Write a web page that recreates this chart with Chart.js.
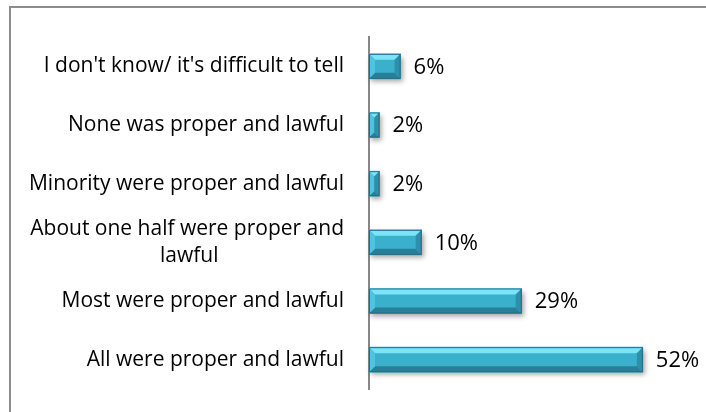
<!DOCTYPE html>
<html>
<head>
<meta charset="utf-8">
<script src="https://cdn.jsdelivr.net/npm/chart.js@4.4.0/dist/chart.umd.min.js"></script>
<style>
  html, body { margin: 0; padding: 0; background: #fff; }
  #wrap { width: 706px; height: 412px; position: relative; }
</style>
</head>
<body>
<div id="wrap"><canvas id="bar-chart" width="706" height="412"></canvas></div>
<script>
"use strict";

var categories = [
    "I don't know/ it's difficult to tell",
    "None was proper and lawful",
    "Minority were proper and lawful",
    ["About one half were proper and", "lawful"],
    "Most were proper and lawful",
    "All were proper and lawful"
];
var percents = [6, 2, 2, 10, 29, 52];
var valueLabels = ["6%", "2%", "2%", "10%", "29%", "52%"];

var labelFont = "'Open Sans', Lato, sans-serif";

// second line of a wrapped label sits centred under the first one
function centreSecondLine(lbl) {
    if (!Array.isArray(lbl)) return lbl;
    return [lbl[0], lbl[1] + new Array(24).join(' ')];
}

// frame round the chart, only top and left are inside the picture
var framePlugin = {
    id: 'frame',
    beforeDraw: function (chart) {
        var ctx = chart.ctx;
        ctx.save();
        ctx.strokeStyle = '#8c8c8c';
        ctx.lineWidth = 2;
        ctx.beginPath();
        ctx.moveTo(10, 420);
        ctx.lineTo(10, 7);
        ctx.lineTo(720, 7);
        ctx.stroke();
        ctx.restore();
    }
};

// shadow under bars, bevel on top, value text at the end
var bevelPlugin = {
    id: 'bevel',
    beforeDatasetsDraw: function (chart) {
        var ctx = chart.ctx;
        var meta = chart.getDatasetMeta(0);
        ctx.save();
        ctx.fillStyle = '#ffffff';
        ctx.shadowColor = 'rgba(0,0,0,0.35)';
        ctx.shadowBlur = 5;
        ctx.shadowOffsetX = 2;
        ctx.shadowOffsetY = 3;
        meta.data.forEach(function (bar) {
            var p = bar.getProps(['x', 'y', 'base', 'height'], true);
            ctx.fillRect(p.base, p.y - p.height / 2, p.x - p.base, p.height);
        });
        ctx.restore();
    },
    afterDatasetsDraw: function (chart) {
        var ctx = chart.ctx;
        var meta = chart.getDatasetMeta(0);
        ctx.save();
        meta.data.forEach(function (bar, i) {
            var p = bar.getProps(['x', 'y', 'base', 'height'], true);
            var l = p.base, r = p.x, t = p.y - p.height / 2, b = p.y + p.height / 2;
            var d = Math.min(6, (r - l) / 2, p.height / 2);
            function quad(pts, col) {
                ctx.beginPath();
                ctx.moveTo(pts[0], pts[1]);
                for (var k = 2; k < pts.length; k += 2) ctx.lineTo(pts[k], pts[k + 1]);
                ctx.closePath();
                ctx.fillStyle = col;
                ctx.fill();
            }
            quad([l, t, r, t, r - d, t + d, l + d, t + d], '#7be5f8');
            quad([l, b, r, b, r - d, b - d, l + d, b - d], '#2a7f98');
            quad([l, t, l + d, t + d, l + d, b - d, l, b], '#4ec4de');
            quad([r, t, r - d, t + d, r - d, b - d, r, b], '#2d90ab');
            ctx.strokeStyle = '#1f6f87';
            ctx.lineWidth = 1;
            ctx.strokeRect(l + 0.5, t + 0.5, r - l - 1, b - t - 1);

            ctx.fillStyle = '#000000';
            ctx.font = '22px ' + labelFont;
            ctx.textAlign = 'left';
            ctx.textBaseline = 'middle';
            ctx.fillText(valueLabels[i], r + 13, p.y + 1);
        });
        ctx.restore();
    }
};

var barChartData = {
    labels: categories.map(centreSecondLine),
    datasets: [{
        label: "share",
        data: percents,
        backgroundColor: "#3ab0cc",
        borderWidth: 0,
        barThickness: 25
    }]
};

var myBar = new Chart(document.getElementById("bar-chart"), {
    type: 'bar',
    data: barChartData,
    options: {
        indexAxis: 'y',
        responsive: false,
        animation: false,
        layout: { padding: { top: 37, bottom: 23, right: 21, left: 0 } },
        plugins: {
            legend: { display: false },
            tooltip: { enabled: false },
            title: { display: false }
        },
        scales: {
            x: {
                display: false,
                min: 0,
                max: 60
            },
            y: {
                grid: { display: false, drawTicks: false },
                border: { display: true, color: '#878787', width: 2 },
                ticks: {
                    color: '#000000',
                    padding: 25,
                    font: { family: labelFont, size: 21, lineHeight: 1.3 }
                },
                afterFit: function (scale) {
                    scale.width = 369;
                    scale.paddingTop = 0;
                    scale.paddingBottom = 0;
                }
            }
        }
    },
    plugins: [framePlugin, bevelPlugin]
});
</script>
</body>
</html>
